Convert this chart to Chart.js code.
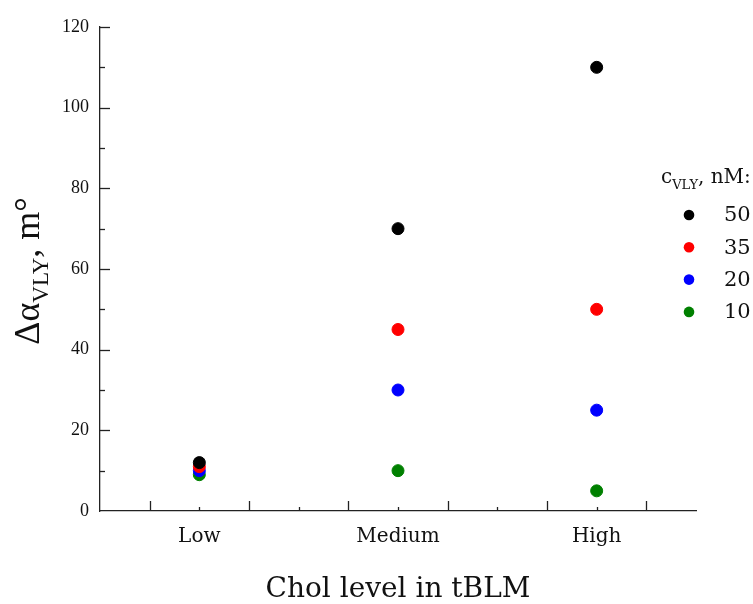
<!DOCTYPE html>
<html>
<head>
<meta charset="utf-8">
<script src="https://cdn.jsdelivr.net/npm/chart.js@4"></script>
<style>
  html, body { margin: 0; padding: 0; background: #fff; }
  #wrap { width: 753px; height: 604px; position: relative; }
</style>
</head>
<body>
<div id="wrap"><canvas id="chart"></canvas></div>
<script>
// categories on the x axis
const cholLevels = ["Low", "Medium", "High"];

// Δα values (m°) for each VLY concentration
const vly50 = [12, 70, 110];
const vly35 = [11, 45, 50];
const vly20 = [10, 30, 25];
const vly10 = [9, 10, 5];

const seriesLabels = ["50", "35", "20", "10"];
const seriesColors = ["#000000", "#ff0000", "#0000ff", "#008000"];

const yTicks = [0, 20, 40, 60, 80, 100, 120];

const serif = "'Liberation Serif', 'Times New Roman', serif";
const cambria = "'DejaVu Serif', serif";

function toPoints(values) {
  return values.map((v, i) => ({ x: i, y: v }));
}

// draw text with a subscript part, left to right from x
function drawSub(ctx, x, y, parts) {
  parts.forEach(p => {
    ctx.font = p.font;
    ctx.fillText(p.text, x, y + (p.dy || 0));
    x += ctx.measureText(p.text).width;
  });
  return x;
}
function measureSub(ctx, parts) {
  let w = 0;
  parts.forEach(p => { ctx.font = p.font; w += ctx.measureText(p.text).width; });
  return w;
}

// inward ticks, axis titles and the legend
const decorations = {
  id: "decorations",
  afterDraw(chart) {
    const ctx = chart.ctx;
    const xs = chart.scales.x;
    const ys = chart.scales.y;
    const area = chart.chartArea;
    ctx.save();
    ctx.strokeStyle = "#222";
    ctx.lineWidth = 1.3;

    // y ticks pointing into the plot
    ys.ticks.forEach(t => {
      const v = Math.round(t.value);
      if (v <= 0) return;
      const py = Math.round(ys.getPixelForValue(v)) + 0.5;
      const len = v % 20 === 0 ? 10 : 5;
      ctx.beginPath();
      ctx.moveTo(area.left, py);
      ctx.lineTo(area.left + len, py);
      ctx.stroke();
    });

    // x ticks pointing up
    xs.ticks.forEach(t => {
      const q = Math.round(t.value * 4);
      if (q <= -2 || q >= 10) return;
      const px = Math.round(xs.getPixelForValue(q / 4)) + 0.5;
      const len = Math.abs(q) % 2 === 1 ? 10 : 4;
      ctx.beginPath();
      ctx.moveTo(px, area.bottom);
      ctx.lineTo(px, area.bottom - len);
      ctx.stroke();
    });

    ctx.fillStyle = "#111";
    ctx.textBaseline = "alphabetic";

    // x title
    ctx.font = "28px " + cambria;
    ctx.textAlign = "center";
    ctx.fillText("Chol level in tBLM", (area.left + area.right) / 2, 597);

    // y title, rotated
    ctx.textAlign = "left";
    const yParts = [
      { text: "Δα", font: "36px " + serif },
      { text: "VLY", font: "23px " + serif, dy: 9 },
      { text: ", m°", font: "36px " + serif }
    ];
    const yw = measureSub(ctx, yParts);
    ctx.save();
    ctx.translate(39, 271);
    ctx.rotate(-Math.PI / 2);
    drawSub(ctx, -yw / 2, 0, yParts);
    ctx.restore();

    // legend
    const lParts = [
      { text: "c", font: "20px " + cambria },
      { text: "VLY", font: "13px " + cambria, dy: 6 },
      { text: ", nM:", font: "20px " + cambria }
    ];
    drawSub(ctx, 661, 183, lParts);
    chart.data.datasets.forEach((ds, i) => {
      const cy = 215 + i * 32.3;
      ctx.beginPath();
      ctx.fillStyle = ds.backgroundColor;
      ctx.arc(689, cy, 5.3, 0, Math.PI * 2);
      ctx.fill();
      ctx.fillStyle = "#111";
      ctx.font = "21px " + cambria;
      ctx.textBaseline = "middle";
      ctx.fillText(ds.label, 724, cy + 1);
      ctx.textBaseline = "alphabetic";
    });
    ctx.restore();
  }
};

const datasets = [vly50, vly35, vly20, vly10].map((vals, i) => ({
  label: seriesLabels[i],
  data: toPoints(vals),
  backgroundColor: seriesColors[i],
  borderColor: seriesColors[i],
  pointRadius: 6,
  pointHoverRadius: 6,
  showLine: false
}));

new Chart(document.getElementById("chart"), {
  type: "scatter",
  data: { datasets: datasets },
  options: {
    responsive: true,
    maintainAspectRatio: false,
    animation: false,
    layout: { padding: { top: 27, right: 57, left: 0, bottom: 0 } },
    plugins: { legend: { display: false }, tooltip: { enabled: false } },
    scales: {
      x: {
        type: "linear",
        min: -0.5,
        max: 2.5,
        afterBuildTicks: scale => {
          const t = [];
          for (let q = -2; q <= 10; q++) t.push({ value: q / 4 });
          scale.ticks = t;
        },
        afterFit: scale => { scale.height = 93; },
        grid: { display: true, drawOnChartArea: false, drawTicks: false },
        border: { display: true, color: "#222", width: 1.3 },
        ticks: {
          padding: 14,
          color: "#111",
          font: { family: cambria, size: 20 },
          autoSkip: false,
          maxRotation: 0,
          callback: v => {
            const q = Math.round(v * 4);
            return q % 4 === 0 && q >= 0 && q <= 8 ? cholLevels[q / 4] : "";
          }
        }
      },
      y: {
        min: 0,
        max: 120,
        afterBuildTicks: scale => {
          const t = [];
          for (let v = 0; v <= 120; v += 10) t.push({ value: v });
          scale.ticks = t;
        },
        afterFit: scale => { scale.width = 100; },
        grid: { display: true, drawOnChartArea: false, drawTicks: false },
        border: { display: true, color: "#222", width: 1.3 },
        ticks: {
          padding: 11,
          color: "#111",
          font: { family: serif, size: 18 },
          autoSkip: false,
          callback: v => (yTicks.includes(Math.round(v)) ? String(Math.round(v)) : "")
        }
      }
    }
  },
  plugins: [decorations]
});
</script>
</body>
</html>
